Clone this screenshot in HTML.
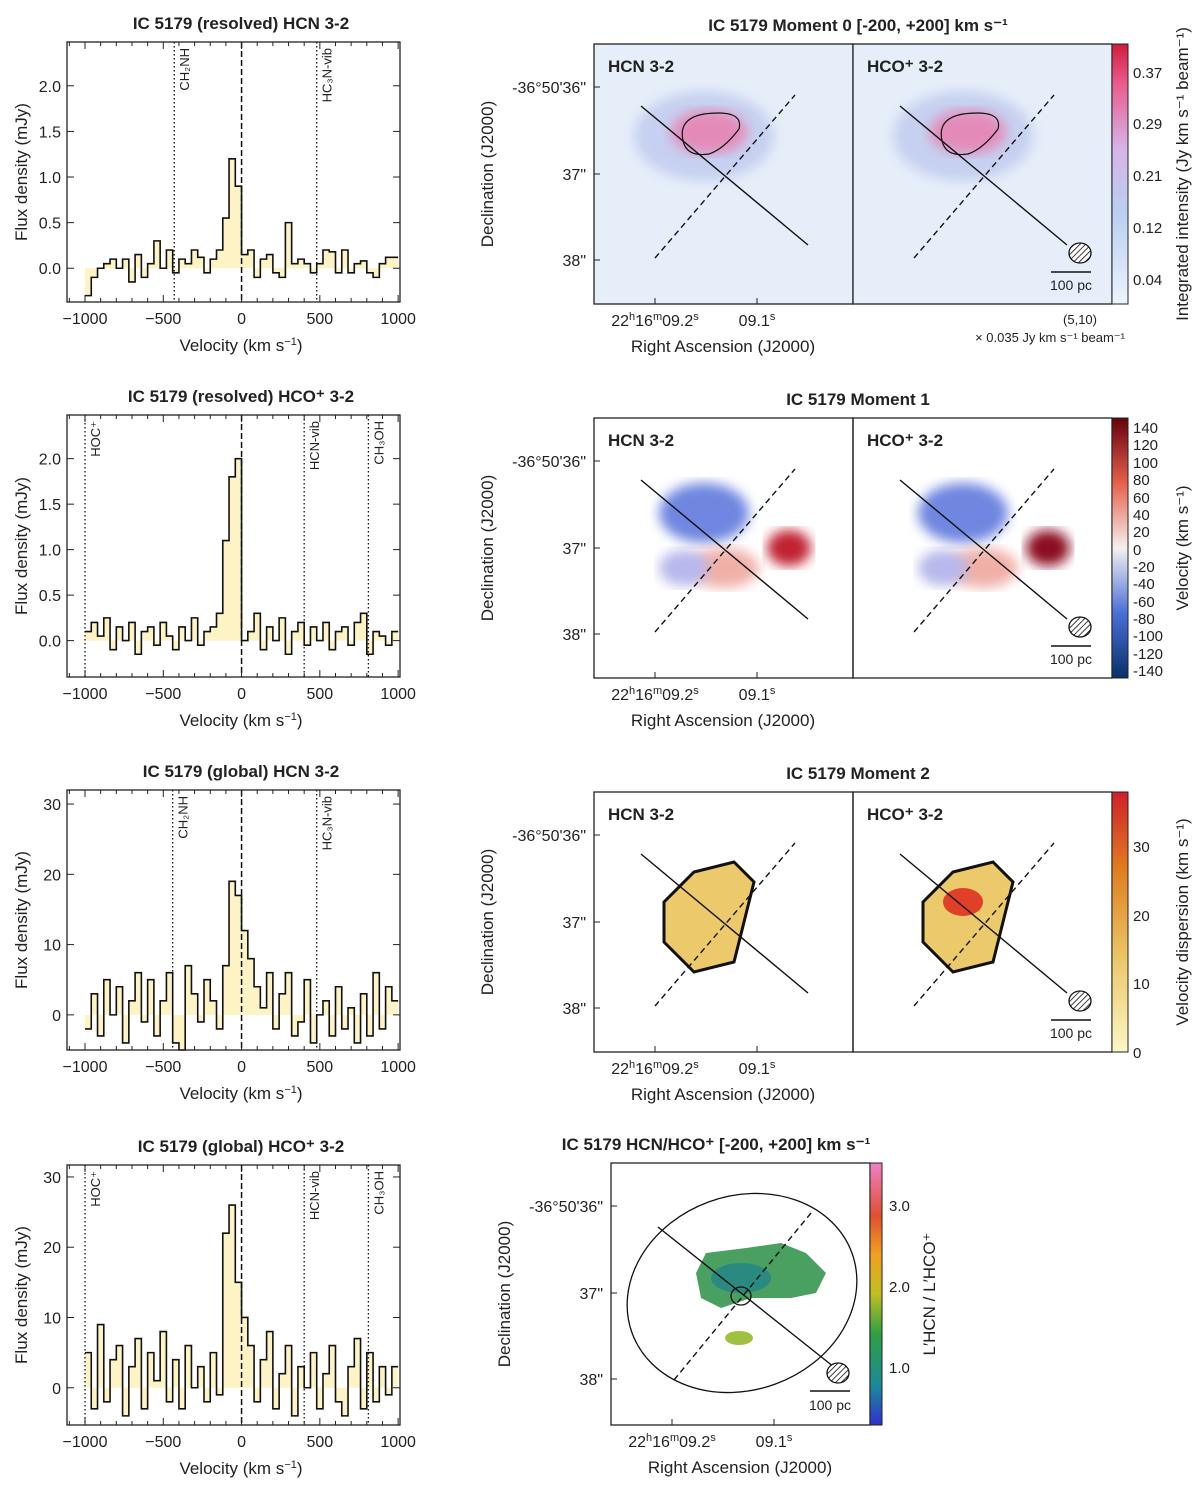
<!DOCTYPE html>
<html><head><meta charset="utf-8"><style>
body{margin:0;background:#fff}
svg text{font-family:"Liberation Sans",sans-serif;fill:#222}
</style></head><body>
<svg id="fig" width="1200" height="1484" viewBox="0 0 1200 1484" xmlns="http://www.w3.org/2000/svg">
<defs>
<linearGradient id="cb0" x1="0" y1="1" x2="0" y2="0"><stop offset="0" stop-color="#eef4fc"/><stop offset="0.35" stop-color="#b9cff0"/><stop offset="0.6" stop-color="#d6b4e6"/><stop offset="0.85" stop-color="#ea5a8c"/><stop offset="1" stop-color="#d01c3c"/></linearGradient>
<linearGradient id="cb1" x1="0" y1="1" x2="0" y2="0"><stop offset="0" stop-color="#08306b"/><stop offset="0.25" stop-color="#4a6fd8"/><stop offset="0.5" stop-color="#f4f0f0"/><stop offset="0.75" stop-color="#e6604a"/><stop offset="1" stop-color="#67000d"/></linearGradient>
<linearGradient id="cb2" x1="0" y1="1" x2="0" y2="0"><stop offset="0" stop-color="#fbf7c4"/><stop offset="0.35" stop-color="#ecc96a"/><stop offset="0.7" stop-color="#e07e20"/><stop offset="1" stop-color="#d0202a"/></linearGradient>
<linearGradient id="cb3" x1="0" y1="1" x2="0" y2="0"><stop offset="0" stop-color="#3030d0"/><stop offset="0.15" stop-color="#1a8a9a"/><stop offset="0.35" stop-color="#30a040"/><stop offset="0.5" stop-color="#c0c020"/><stop offset="0.65" stop-color="#f0a020"/><stop offset="0.8" stop-color="#e05030"/><stop offset="1" stop-color="#f080c8"/></linearGradient>
<pattern id="hatch" width="4" height="4" patternUnits="userSpaceOnUse" patternTransform="rotate(45)"><rect width="4" height="4" fill="#fff"/><line x1="0" y1="0" x2="0" y2="4" stroke="#000" stroke-width="1.5"/></pattern>
<filter id="blur"><feGaussianBlur stdDeviation="6"/></filter>
</defs>
<g id="spectra"></g>
<g id="maps"></g>
</svg>
<script>
const NS="http://www.w3.org/2000/svg";
const svg=document.getElementById('fig');
const velStart=-1000, velStep=40;
const spec1Vals=[-0.3,-0.1,0.0,0.05,0.1,0.0,0.1,-0.15,0.15,-0.1,0.05,0.3,0.0,0.2,-0.05,0.1,0.05,0.2,0.12,-0.05,0.1,0.2,0.55,1.2,0.9,0.15,0.2,-0.1,0.1,0.15,-0.05,-0.1,0.5,0.05,0.1,0.05,-0.05,0.05,0.2,0.18,-0.05,0.2,-0.05,0.05,0.08,-0.05,-0.1,0.05,0.12,0.12];
const spec2Vals=[0.1,0.2,0.05,0.25,-0.1,0.15,0.0,0.2,-0.15,0.1,0.15,-0.05,0.2,0.05,-0.1,0.15,0.0,0.25,-0.05,0.1,0.15,0.3,1.1,1.8,2.0,0.0,0.1,0.3,-0.1,0.15,0.0,0.25,-0.15,0.1,0.2,-0.05,0.15,0.0,0.2,-0.1,0.1,0.15,-0.05,0.2,0.3,-0.15,0.1,0.05,-0.05,0.1];
const spec3Vals=[-2,3,-3,5,0,4,-4,2,6,-1,5,-3,2,6,-4,-5,7,3,-1,5,2,-2,7,19,17,12,8,4,1,6,-2,3,6,-3,-1,5,-4,0,2,-3,4,-2,1,-4,3,-3,6,-2,4,2];
const spec4Vals=[5,-3,9,-2,4,6,-4,3,7,-3,5,1,8,-2,4,-3,6,0,3,-2,5,-1,22,26,15,10,6,-2,4,8,-3,2,6,-4,3,0,5,-3,2,6,-2,-4,3,7,-3,5,-2,3,-1,3];
const xTicks=[-1000,-500,0,500,1000];
const panels=[
 {top:42,bot:302,ymin:-0.37,ymax:2.48,vals:spec1Vals,yt:[0,0.5,1,1.5,2],yl:['0.0','0.5','1.0','1.5','2.0'],title:'IC 5179  (resolved)  HCN 3-2',lines:[[-430,'CH₂NH'],[480,'HC₃N-vib']],name:'resolved-hcn'},
 {top:415,bot:677,ymin:-0.40,ymax:2.48,vals:spec2Vals,yt:[0,0.5,1,1.5,2],yl:['0.0','0.5','1.0','1.5','2.0'],title:'IC 5179  (resolved)  HCO⁺ 3-2',lines:[[-1000,'HOC⁺'],[400,'HCN-vib'],[810,'CH₃OH']],name:'resolved-hco'},
 {top:790,bot:1050,ymin:-5.0,ymax:32.0,vals:spec3Vals,yt:[0,10,20,30],yl:['0','10','20','30'],title:'IC 5179  (global)  HCN 3-2',lines:[[-440,'CH₂NH'],[480,'HC₃N-vib']],name:'global-hcn'},
 {top:1165,bot:1425,ymin:-5.3,ymax:31.7,vals:spec4Vals,yt:[0,10,20,30],yl:['0','10','20','30'],title:'IC 5179  (global)  HCO⁺ 3-2',lines:[[-1000,'HOC⁺'],[400,'HCN-vib'],[810,'CH₃OH']],name:'global-hco'}
];
function el(t,a,p){const e=document.createElementNS(NS,t);for(const k in a)e.setAttribute(k,a[k]);(p||svg).appendChild(e);return e;}
const X0=67,X1=400,VMIN=-1115,VMAX=1012;
const xs=v=>X0+(v-VMIN)/(VMAX-VMIN)*(X1-X0);
const sp=document.getElementById('spectra');
panels.forEach(p=>{
 const g=el('g',{},sp);
 
 
 const ys=v=>p.bot-(v-p.ymin)/(p.ymax-p.ymin)*(p.bot-p.top);
 // fill
 let d='';
 p.vals.forEach((v,i)=>{const a=xs(velStart+i*velStep),b=xs(velStart+(i+1)*velStep);const y0=ys(0),y=Math.max(p.top,Math.min(p.bot,ys(v)));d+=`M${a},${y0}L${a},${y}L${b},${y}L${b},${y0}Z`;});
 const f=el('path',{d:d,fill:'#fdf3c4',stroke:'none'},g);
 
 
 let l='';
 p.vals.forEach((v,i)=>{const a=xs(velStart+i*velStep),b=xs(velStart+(i+1)*velStep);const y=Math.max(p.top,Math.min(p.bot,ys(v)));l+=(i?'L':'M')+a+','+y+'L'+b+','+y;});
 const ln=el('path',{d:l,fill:'none',stroke:'#111','stroke-width':1.6},g);
 
 
 el('line',{x1:xs(0),x2:xs(0),y1:p.top,y2:p.bot,stroke:'#111','stroke-width':1.5,'stroke-dasharray':'6,3'},g);
 p.lines.forEach(([v,lab])=>{const x=xs(v);el('line',{x1:x,x2:x,y1:p.top,y2:p.bot,stroke:'#111','stroke-width':1.3,'stroke-dasharray':'1.5,2.5'},g);
  const t=el('text',{x:0,y:0,'font-size':13,transform:`translate(${x+15},${p.top+6}) rotate(-90)`,'text-anchor':'end'},g);t.textContent=lab;
  
  });
 el('rect',{x:X0,y:p.top,width:X1-X0,height:p.bot-p.top,fill:'none',stroke:'#222','stroke-width':1.3},g);
 for(let v=-1100;v<=1000;v+=100){const x=xs(v);const M=xTicks.includes(v);el('line',{x1:x,x2:x,y1:p.bot,y2:p.bot-(M?7:4),stroke:'#222'},g);el('line',{x1:x,x2:x,y1:p.top,y2:p.top+(M?7:4),stroke:'#222'},g);}
 xTicks.forEach(v=>{const t=el('text',{x:xs(v),y:p.bot+22,'font-size':16,'text-anchor':'middle'},g);t.textContent=(v<0?'−':'')+Math.abs(v);});
 p.yt.forEach((v,i)=>{const y=ys(v);el('line',{x1:X0,x2:X0+7,y1:y,y2:y,stroke:'#222'},g);el('line',{x1:X1,x2:X1-7,y1:y,y2:y,stroke:'#222'},g);const t=el('text',{x:X0-6,y:y+6,'font-size':16,'text-anchor':'end'},g);t.textContent=p.yl[i];});
 const tt=el('text',{x:241,y:p.top-13,'font-size':17,'font-weight':'bold','text-anchor':'middle'},g);tt.textContent=p.title;
 
 
 const xl=el('text',{x:241,y:p.bot+49,'font-size':17,'text-anchor':'middle'},g);xl.innerHTML='Velocity (km s<tspan dy="-6" font-size="11">−1</tspan><tspan dy="6">)</tspan>';
 const yl=el('text',{x:0,y:0,'font-size':17,'text-anchor':'middle',transform:`translate(27,${(p.top+p.bot)/2}) rotate(-90)`},g);yl.textContent='Flux density (mJy)';
});

// maps
const mg=document.getElementById('maps');
function mapAxes(x0,w,top,h,g){
 const t1=el('text',{x:x0-8,y:top+49,'font-size':16,'text-anchor':'end'},g);t1.textContent='-36°50\'36"';
 const t2=el('text',{x:x0-8,y:top+136,'font-size':16,'text-anchor':'end'},g);t2.textContent='37"';
 const t3=el('text',{x:x0-8,y:top+222,'font-size':16,'text-anchor':'end'},g);t3.textContent='38"';
 [43,130,216].forEach(dy=>{el('line',{x1:x0,x2:x0+6,y1:top+dy,y2:top+dy,stroke:'#222'},g);});
 [61,163].forEach(dx=>{el('line',{x1:x0+dx,x2:x0+dx,y1:top+h,y2:top+h-6,stroke:'#222'},g);});
 const a=el('text',{x:x0+61,y:top+h+22,'font-size':16,'text-anchor':'middle'},g);a.innerHTML='22<tspan dy="-6" font-size="11">h</tspan><tspan dy="6">16</tspan><tspan dy="-6" font-size="11">m</tspan><tspan dy="6">09.2</tspan><tspan dy="-6" font-size="11">s</tspan>';
 const b=el('text',{x:x0+163,y:top+h+22,'font-size':16,'text-anchor':'middle'},g);b.innerHTML='09.1<tspan dy="-6" font-size="11">s</tspan>';
 const r=el('text',{x:x0+129,y:top+h+48,'font-size':17,'text-anchor':'middle'},g);r.textContent='Right Ascension (J2000)';
 const d=el('text',{x:0,y:0,'font-size':17,'text-anchor':'middle',transform:`translate(${x0-101},${top+h/2}) rotate(-90)`},g);d.textContent='Declination (J2000)';
}
function diag(ox,top,g){
 el('line',{x1:ox+47,y1:top+62,x2:ox+214,y2:top+201,stroke:'#111','stroke-width':1.4},g);
 el('line',{x1:ox+61,y1:top+214,x2:ox+201,y2:top+51,stroke:'#111','stroke-width':1.4,'stroke-dasharray':'6,4'},g);
}
function beam(ox,top,g){
 el('ellipse',{cx:ox+227,cy:top+209,rx:11,ry:10,fill:'url(#hatch)',stroke:'#111','stroke-width':1.3},g);
 el('line',{x1:ox+198,x2:ox+238,y1:top+228,y2:top+228,stroke:'#111','stroke-width':1.5},g);
 const t=el('text',{x:ox+218,y:top+246,'font-size':14,'text-anchor':'middle'},g);t.textContent='100 pc';
}
const rows=[
 {top:44,title:'IC 5179  Moment 0  [-200, +200] km s⁻¹',cb:'cb0',name:'moment0',ticks:[['0.37',29],['0.29',80],['0.21',132],['0.12',184],['0.04',236]],cbl:'Integrated intensity (Jy km s⁻¹ beam⁻¹)'},
 {top:418,title:'IC 5179  Moment 1',cb:'cb1',name:'moment1',ticks:[['140',10],['120',27],['100',45],['80',62],['60',80],['40',97],['20',114],['0',132],['-20',149],['-40',166],['-60',184],['-80',201],['-100',218],['-120',236],['-140',253]],cbl:'Velocity (km s⁻¹)'},
 {top:792,title:'IC 5179  Moment 2',cb:'cb2',name:'moment2',ticks:[['30',55],['20',124],['10',192],['0',261]],cbl:'Velocity dispersion (km s⁻¹)'}
];
rows.forEach((r,ri)=>{
 const g=el('g',{},mg);
 
 
 const T=r.top,H=260;
 const tt=el('text',{x:858,y:T-13,'font-size':17,'font-weight':'bold','text-anchor':'middle'},g);tt.textContent=r.title;
 [594,853].forEach((ox,pi)=>{
  const c=el('g',{},g);
  if(ri===0){el('rect',{x:ox,y:T,width:259,height:H,fill:'#e6eef9'},c);
   el('ellipse',{cx:ox+110+pi*0,cy:T+92,rx:70,ry:45,fill:'#c6d0f0',filter:'url(#blur)'},c);
   el('ellipse',{cx:ox+115,cy:T+88,rx:38,ry:22,fill:'#e48ab8',filter:'url(#blur)'},c);
   el('path',{d:`M${ox+90},${T+100} q-8,-25 20,-30 q40,-5 35,15 q-15,20 -30,25 q-20,3 -25,-10z`,fill:'none',stroke:'#111','stroke-width':1.2},c);}
  if(ri===1){el('ellipse',{cx:ox+110,cy:T+95,rx:45,ry:30,fill:'#6f86e0',filter:'url(#blur)'},c);
   el('ellipse',{cx:ox+130,cy:T+150,rx:35,ry:20,fill:'#f0b0a8',filter:'url(#blur)'},c);
   el('ellipse',{cx:ox+195,cy:T+130,rx:22,ry:18,fill:pi?'#8c1020':'#c02030',filter:'url(#blur)'},c);
   el('ellipse',{cx:ox+90,cy:T+150,rx:25,ry:18,fill:'#b8b8ec',filter:'url(#blur)'},c);}
  if(ri===2){el('path',{d:`M${ox+70},${T+110} l30,-30 l40,-10 l20,20 l-10,40 l-10,40 l-40,10 l-30,-30z`,fill:'#ecc96a',stroke:'#111','stroke-width':3},c);
   if(pi)el('ellipse',{cx:ox+110,cy:T+110,rx:20,ry:14,fill:'#e04028'},c);}
  diag(ox,T,c);
  const lb=el('text',{x:ox+14,y:T+28,'font-size':17,'font-weight':'bold'},c);lb.textContent=pi?'HCO⁺ 3-2':'HCN 3-2';
  
  
  if(pi)beam(ox,T,c);
  el('rect',{x:ox,y:T,width:259,height:H,fill:'none',stroke:'#222','stroke-width':1.3},c);
 });
 mapAxes(594,259,T,H,g);
 const cb=el('rect',{x:1112,y:T,width:16,height:H,fill:`url(#${r.cb})`,stroke:'#222'},g);
 
 
 r.ticks.forEach(([l,dy])=>{const t=el('text',{x:1133,y:T+dy+5,'font-size':15},g);t.textContent=l;});
 const cl=el('text',{x:0,y:0,'font-size':17,'text-anchor':'middle',transform:`translate(1188,${T+H/2}) rotate(-90)`},g);cl.textContent=r.cbl;
 if(ri===0){const a=el('text',{x:1097,y:T+280,'font-size':13,'text-anchor':'end'},g);a.textContent='(5,10)';
  const b=el('text',{x:1125,y:T+298,'font-size':13,'text-anchor':'end'},g);b.textContent='× 0.035 Jy km s⁻¹ beam⁻¹';}
});
// ratio map
(function(){
 const g=el('g',{},mg);
 
 
 const T=1163,H=262,ox=611;
 const tt=el('text',{x:716,y:T-13,'font-size':17,'font-weight':'bold','text-anchor':'middle'},g);tt.textContent='IC 5179  HCN/HCO⁺  [-200, +200] km s⁻¹';
 el('ellipse',{cx:ox+131,cy:T+130,rx:117,ry:97,transform:`rotate(-20 ${ox+131} ${T+130})`,fill:'none',stroke:'#111','stroke-width':1.3},g);
 el('path',{d:`M${ox+85},${T+110} l10,-20 l40,-5 l35,-5 l25,10 l20,20 l-10,20 l-25,5 l-40,0 l-30,10 l-20,-10z`,fill:'#4aa060'},g);
 el('ellipse',{cx:ox+130,cy:T+115,rx:30,ry:15,fill:'#2a8a80'},g);
 el('ellipse',{cx:ox+128,cy:T+175,rx:14,ry:7,fill:'#a0c040'},g);
 el('line',{x1:ox+47,y1:T+64,x2:ox+228,y2:T+208,stroke:'#111','stroke-width':1.4},g);
 el('line',{x1:ox+63,y1:T+217,x2:ox+200,y2:T+50,stroke:'#111','stroke-width':1.4,'stroke-dasharray':'6,4'},g);
 el('ellipse',{cx:ox+130,cy:T+133,rx:10,ry:9,fill:'none',stroke:'#111','stroke-width':1.3},g);
 el('ellipse',{cx:ox+227,cy:T+210,rx:11,ry:10,fill:'url(#hatch)',stroke:'#111','stroke-width':1.3},g);
 el('line',{x1:ox+199,x2:ox+239,y1:T+228,y2:T+228,stroke:'#111','stroke-width':1.5},g);
 const s=el('text',{x:ox+219,y:T+247,'font-size':14,'text-anchor':'middle'},g);s.textContent='100 pc';
 el('rect',{x:ox,y:T,width:259,height:H,fill:'none',stroke:'#222','stroke-width':1.3},g);
 mapAxes(ox,259,T,H,g);
 el('rect',{x:870,y:T,width:12,height:H,fill:'url(#cb3)',stroke:'#222'},g);
 [['3.0',43],['2.0',124],['1.0',205]].forEach(([l,dy])=>{const t=el('text',{x:889,y:T+dy+5,'font-size':15},g);t.textContent=l;});
 const cl=el('text',{x:0,y:0,'font-size':17,'text-anchor':'middle',transform:`translate(935,${T+H/2}) rotate(-90)`},g);cl.textContent="L′HCN / L′HCO⁺";
})();
</script>
</body></html>
